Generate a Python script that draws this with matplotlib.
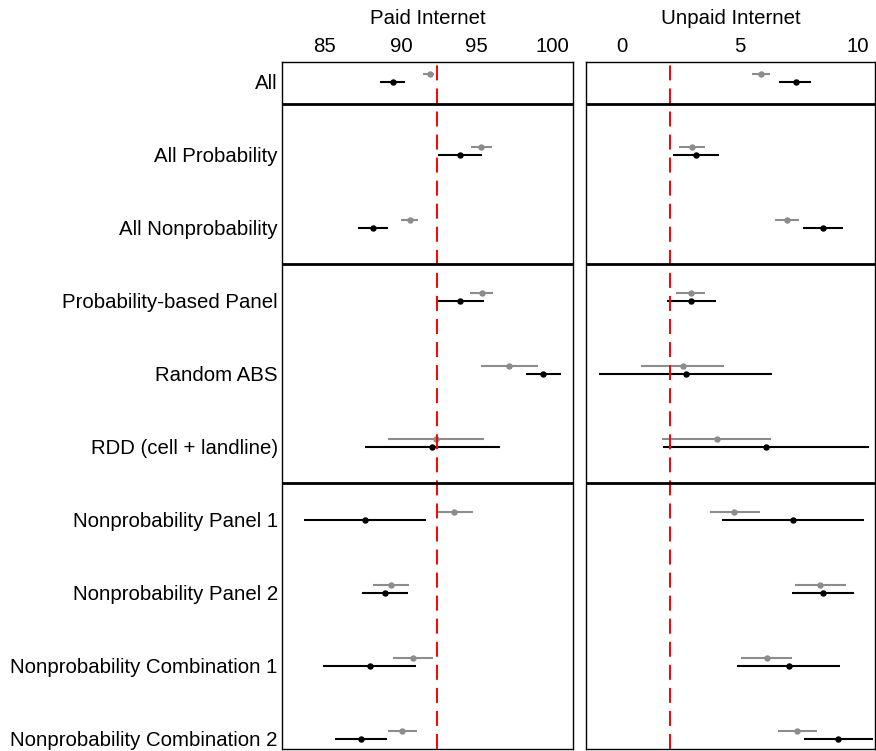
import matplotlib
matplotlib.use("Agg")
import matplotlib.pyplot as plt

plt.rcParams['font.family'] = ['Liberation Sans', 'DejaVu Sans']
plt.rcParams['lines.scale_dashes'] = False

categories = ["All", "All Probability", "All Nonprobability", "Probability-based Panel",
              "Random ABS", "RDD (cell + landline)", "Nonprobability Panel 1",
              "Nonprobability Panel 2", "Nonprobability Combination 1",
              "Nonprobability Combination 2"]

# Paid Internet: grey (first) and black (second) estimates with interval bounds
paid_grey_est = [91.92, 95.30, 90.58, 95.32, 97.14, 92.31, 93.48, 89.35, 90.82, 90.09]
paid_grey_lo  = [91.45, 94.62, 90.00, 94.57, 95.28, 89.17, 92.29, 88.16, 89.50, 89.13]
paid_grey_hi  = [92.20, 95.98, 91.15, 96.09, 99.01, 95.49, 94.73, 90.56, 92.13, 91.04]
paid_blk_est  = [89.50, 93.89, 88.16, 93.89, 99.38, 92.07, 87.66, 88.97, 87.94, 87.39]
paid_blk_lo   = [88.64, 92.46, 87.17, 92.31, 98.24, 87.64, 83.64, 87.46, 84.89, 85.68]
paid_blk_hi   = [90.29, 95.32, 89.15, 95.45, 100.55, 96.53, 91.67, 90.47, 91.01, 89.10]
paid_benchmark = 92.35

# Unpaid Internet
unpaid_grey_est = [5.89, 2.96, 7.00, 2.92, 2.58, 4.02, 4.77, 8.38, 6.14, 7.42]
unpaid_grey_lo  = [5.50, 2.42, 6.50, 2.31, 0.83, 1.71, 3.72, 7.32, 5.05, 6.60]
unpaid_grey_hi  = [6.29, 3.51, 7.52, 3.54, 4.33, 6.33, 5.84, 9.48, 7.22, 8.25]
unpaid_blk_est  = [7.36, 3.14, 8.52, 2.95, 2.71, 6.09, 7.25, 8.53, 7.07, 9.15]
unpaid_blk_lo   = [6.67, 2.17, 7.69, 1.92, -0.96, 1.75, 4.23, 7.21, 4.88, 7.70]
unpaid_blk_hi   = [8.02, 4.13, 9.35, 3.99, 6.37, 10.47, 10.27, 9.84, 9.24, 10.62]
unpaid_benchmark = 2.04

panel_titles = ["Paid Internet", "Unpaid Internet"]
paid_ticks = [85, 90, 95, 100]
unpaid_ticks = [0, 5, 10]
group_breaks = [0.30, 2.50, 5.50]

W, H = 876, 751
fig = plt.figure(figsize=(W / 100, H / 100), dpi=100)

def frac(x0, y0, x1, y1):
    return [x0 / W, 1 - y1 / H, (x1 - x0) / W, (y1 - y0) / H]

ax1 = fig.add_axes(frac(282, 62, 573, 749))
ax2 = fig.add_axes(frac(586, 62, 875, 749))

panels = [
    (ax1, paid_grey_est, paid_grey_lo, paid_grey_hi, paid_blk_est, paid_blk_lo, paid_blk_hi,
     paid_benchmark, paid_ticks, (82.17, 101.34)),
    (ax2, unpaid_grey_est, unpaid_grey_lo, unpaid_grey_hi, unpaid_blk_est, unpaid_blk_lo,
     unpaid_blk_hi, unpaid_benchmark, unpaid_ticks, (-1.51, 10.72)),
]

FS = 14.7
ypos = list(range(len(categories)))
off = 0.103
for k, (ax, ge, gl, gh, be, bl, bh, bench, ticks, xl) in enumerate(panels):
    for i in ypos:
        ax.plot([gl[i], gh[i]], [i - off, i - off], color='#8c8c8c', lw=1.5,
                solid_capstyle='butt', zorder=2)
        ax.plot([bl[i], bh[i]], [i, i], color='black', lw=1.5,
                solid_capstyle='butt', zorder=3)
    ax.plot(ge, [i - off for i in ypos], 'o', color='#8c8c8c', ms=3.6, zorder=4)
    ax.plot(be, ypos, 'o', color='black', ms=3.6, zorder=5)
    ax.axvline(bench, color='#ff0000', lw=1.4, linestyle=(0, (10.8, 5.8)), zorder=6)
    for b in group_breaks:
        ax.axhline(b, color='black', lw=2.0, zorder=7)
    ax.set_xlim(*xl)
    ax.set_ylim(9.14, -0.27)
    ax.xaxis.tick_top()
    ax.set_xticks(ticks)
    ax.set_xticklabels([str(t) for t in ticks])
    ax.tick_params(axis='x', length=0, pad=4.5, labelsize=FS)
    ax.xaxis.set_label_position('top')
    ax.set_xlabel(panel_titles[k], fontsize=FS, labelpad=9)
    if k == 0:
        ax.set_yticks(ypos)
        ax.set_yticklabels(categories)
        ax.tick_params(axis='y', length=0, pad=3, labelsize=FS)
    else:
        ax.set_yticks([])
    for s in ax.spines.values():
        s.set_linewidth(1.0)

fig.savefig("out.png", dpi=100)
